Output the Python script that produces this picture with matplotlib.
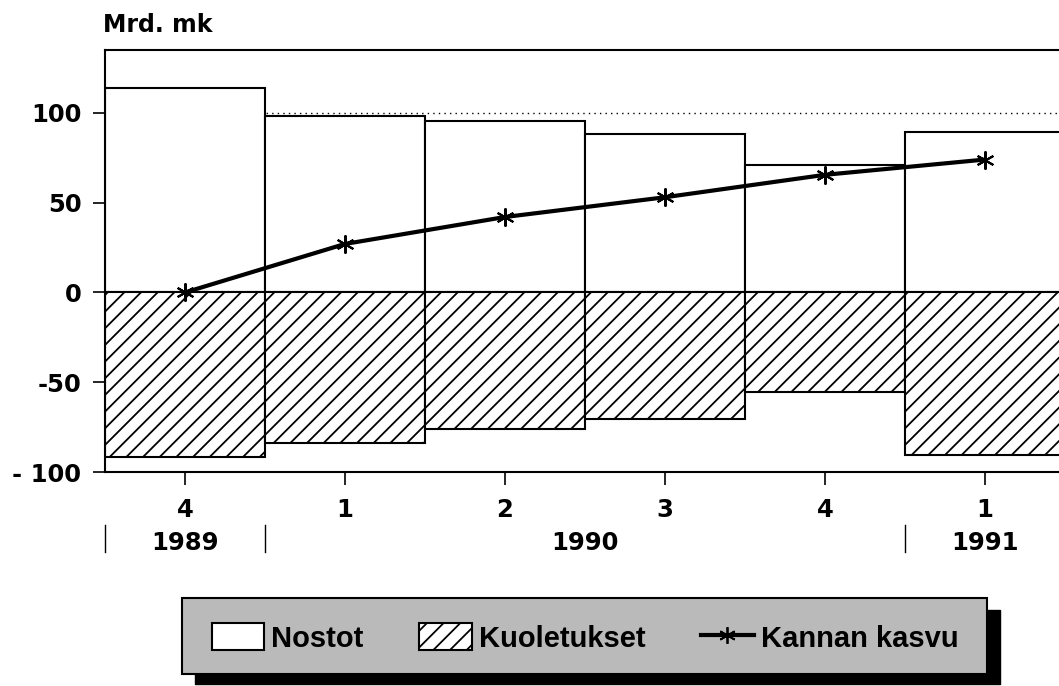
import matplotlib
matplotlib.use("Agg")
import matplotlib.pyplot as plt
from matplotlib.patches import Rectangle, Patch
from matplotlib.lines import Line2D

# data (Mrd. mk)
quarters = ['4', '1', '2', '3', '4', '1']
years = ['1989', '1990', '1991']
year_centers = [0, 2.5, 5]
year_breaks = [-0.5, 0.5, 4.5]
nostot = [114, 98, 95.5, 88, 71, 89.5]
kuoletukset = [-91.5, -84, -76, -70.5, -55.5, -90.5]
kannan_kasvu = [0, 27, 42, 53, 65.5, 74]

plt.rcParams['font.family'] = 'DejaVu Sans'
plt.rcParams['font.weight'] = 'bold'
plt.rcParams['hatch.linewidth'] = 1.3

W, H = 1059, 686
fig = plt.figure(figsize=(W / 100, H / 100), dpi=100)
ax = fig.add_axes([105 / W, 1 - 472 / H, (W - 105) / W, 422 / H])

x = list(range(len(quarters)))
ax.axhline(100, ls=(0, (1, 3)), color='black', lw=1, zorder=0)
ax.bar(x, nostot, width=1, color='white', edgecolor='black', lw=1.5, zorder=1)
ax.bar(x, kuoletukset, width=1, color='white', edgecolor='black', hatch='//', lw=1.5, zorder=1)
ax.plot(x, kannan_kasvu, color='black', lw=3, marker=(6, 2, 0), ms=13, mew=1.5, zorder=3)

ax.set_xlim(-0.5, -0.5 + (W - 105) / 160)
ax.set_ylim(-100, 135)
ax.set_yticks([-100, -50, 0, 50, 100])
ax.set_yticklabels(['- 100', '-50', '0', '50', '100'])
ax.set_xticks(x)
ax.set_xticklabels(quarters)
ax.tick_params(axis='both', labelsize=17.5, length=9, width=1.2, color='black')
ax.tick_params(axis='x', pad=10)
ax.tick_params(axis='y', pad=8)
ax.spines['right'].set_visible(False)
for s in ['left', 'top', 'bottom']:
    ax.spines[s].set_linewidth(1.5)

# year row
trans = ax.get_xaxis_transform()
for xb in year_breaks:
    ax.plot([xb, xb], [-0.126, -0.19], color='black', lw=1, transform=trans, clip_on=False)
for xc, yr in zip(year_centers, years):
    ax.text(xc, -0.168, yr, transform=trans, ha='center', va='center', fontsize=17.5)

fig.text(103 / W, 1 - 25 / H, 'Mrd. mk', ha='left', va='center', fontsize=17)

# legend box with shadow
fig.patches.append(Rectangle((195 / W, 1 - 684 / H), 805 / W, 74 / H,
                             transform=fig.transFigure, facecolor='black', edgecolor='black'))
fig.patches.append(Rectangle((182 / W, 1 - 674 / H), 805 / W, 76 / H,
                             transform=fig.transFigure, facecolor='#bababa', edgecolor='black', lw=1.5))
handles = [Patch(facecolor='white', edgecolor='black', lw=1.5),
           Patch(facecolor='white', edgecolor='black', hatch='//', lw=1.5),
           Line2D([], [], color='black', lw=3, marker=(6, 2, 0), ms=12, mew=1.3)]
fig.legend(handles, ['Nostot', 'Kuoletukset', 'Kannan kasvu'], loc='center',
           bbox_to_anchor=(585 / W, 1 - 638 / H), ncol=3, frameon=False,
           prop={'family': 'Liberation Sans', 'weight': 'bold', 'size': 21},
           handlelength=1.8, handleheight=1.0, handletextpad=0.25, columnspacing=1.9)

fig.savefig('out.png', dpi=100)
